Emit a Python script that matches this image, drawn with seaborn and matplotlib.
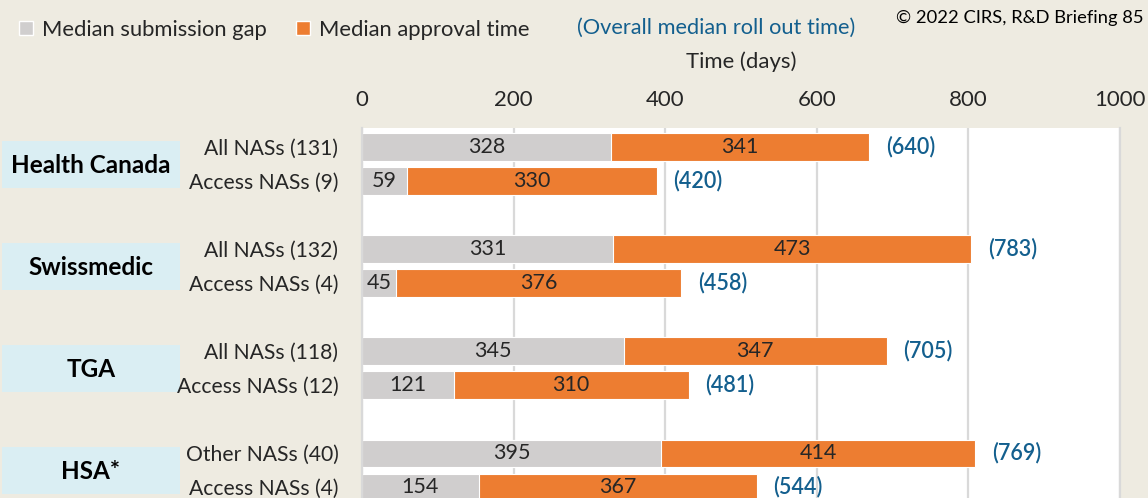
import matplotlib
matplotlib.use("Agg")
import matplotlib.pyplot as plt
import matplotlib.transforms as mtransforms
from matplotlib.patches import Patch, Rectangle
import pandas as pd
import seaborn as sns

# --- data --------------------------------------------------------------
agencies = ["Health Canada", "Swissmedic", "TGA", "HSA*"]
subgroups = [
    ["All NASs (131)", "Access NASs (9)"],
    ["All NASs (132)", "Access NASs (4)"],
    ["All NASs (118)", "Access NASs (12)"],
    ["Other NASs (40)", "Access NASs (4)"],
]
submission_gap = [328, 59, 331, 45, 345, 121, 395, 154]
approval_time = [341, 330, 473, 376, 347, 310, 414, 367]
overall_rollout = [640, 420, 783, 458, 705, 481, 769, 544]
x_ticks = [0, 200, 400, 600, 800, 1000]

GREY = "#D0CECE"
ORANGE = "#ED7D31"
BLUE = "#135F8E"
BEIGE = "#EEEBE1"
BOX = "#DAEEF3"
INK = "#262626"

sns.set_theme(style="white")
plt.rcParams["font.family"] = ["Lato", "DejaVu Sans"]

# one empty slot between agencies
rows = []
k = 0
for g, subs in enumerate(subgroups):
    for i, lab in enumerate(subs):
        rows.append({"pos": g * 3 + i, "label": lab,
                     "gap": submission_gap[k], "appr": approval_time[k],
                     "overall": overall_rollout[k]})
        k += 1
df = pd.DataFrame(rows)
df["stack"] = df["gap"] + df["appr"]

fig = plt.figure(figsize=(11.48, 4.98), dpi=100, facecolor=BEIGE)
ax = fig.add_axes([362 / 1148, 0, (1120 - 362) / 1148, (498 - 128) / 498])
ax.set_facecolor("white")

sns.barplot(data=df, x="stack", y="pos", orient="h", native_scale=True,
            color=ORANGE, saturation=1, width=0.8, edgecolor="white",
            linewidth=0.8, ax=ax)
sns.barplot(data=df, x="gap", y="pos", orient="h", native_scale=True,
            color=GREY, saturation=1, width=0.8, edgecolor="white",
            linewidth=0.8, ax=ax)

ax.set_xlim(0, 1000)
ax.set_ylim(10.32, -0.56)
ax.set_xlabel("")
ax.set_ylabel("")
ax.xaxis.tick_top()
ax.set_xticks(x_ticks)
ax.tick_params(axis="x", length=0, pad=13, labelsize=16, labelcolor=INK)
ax.set_yticks(df["pos"])
ax.set_yticklabels(df["label"])
ax.tick_params(axis="y", length=0, pad=17, labelsize=15.2, labelcolor=INK)
ax.grid(axis="x", color="#D9D9D9", lw=1.6)
ax.set_axisbelow(True)
for side in ("top", "bottom"):
    ax.spines[side].set_visible(False)
for side in ("left", "right"):
    ax.spines[side].set_color("#D9D9D9")
    ax.spines[side].set_linewidth(1.6)

# segment labels and overall medians
for _, r in df.iterrows():
    ax.text(r["gap"] / 2, r["pos"], f"{r['gap']}", ha="center", va="center",
            fontsize=15.5, color=INK)
    ax.text(r["gap"] + r["appr"] / 2, r["pos"], f"{r['appr']}", ha="center",
            va="center", fontsize=15.5, color=INK)
    ax.annotate(f"({r['overall']})", xy=(r["stack"], r["pos"]), xytext=(12, 0),
                textcoords="offset points", ha="left", va="center",
                fontsize=15.5, color=BLUE, fontweight="semibold")

# agency boxes on the left
trans = mtransforms.blended_transform_factory(fig.transFigure, ax.transData)
for g, name in enumerate(agencies):
    mid = g * 3 + 0.5
    ax.add_patch(Rectangle((2 / 1148, mid - 0.69), 178 / 1148, 1.38,
                           transform=trans, facecolor=BOX, edgecolor="none",
                           clip_on=False, zorder=0))
    ax.text(91 / 1148, mid + 0.03, name, transform=trans, ha="center",
            va="center", fontsize=17.5, fontweight="bold", color="black")

# legend and header texts
handles = [Patch(facecolor=GREY), Patch(facecolor=ORANGE)]
fig.legend(handles, ["Median submission gap", "Median approval time"],
           loc="center left", bbox_to_anchor=(0.009, 0.94), ncol=2,
           frameon=False, fontsize=15.8, handlelength=0.65, handleheight=0.65,
           handletextpad=0.4, columnspacing=1.3, borderaxespad=0,
           labelcolor=INK)
fig.text(577 / 1148, 1 - 28 / 498, "(Overall median roll out time)",
         ha="left", va="center", fontsize=15.7, color=BLUE)
fig.text(1143 / 1148, 1 - 18 / 498, "© 2022 CIRS, R&D Briefing 85",
         ha="right", va="center", fontsize=13.2, color="black")
fig.text(741 / 1148, 1 - 62 / 498, "Time (days)", ha="center", va="center",
         fontsize=15.9, color=INK)

fig.savefig("out.png", dpi=100, facecolor=BEIGE)
